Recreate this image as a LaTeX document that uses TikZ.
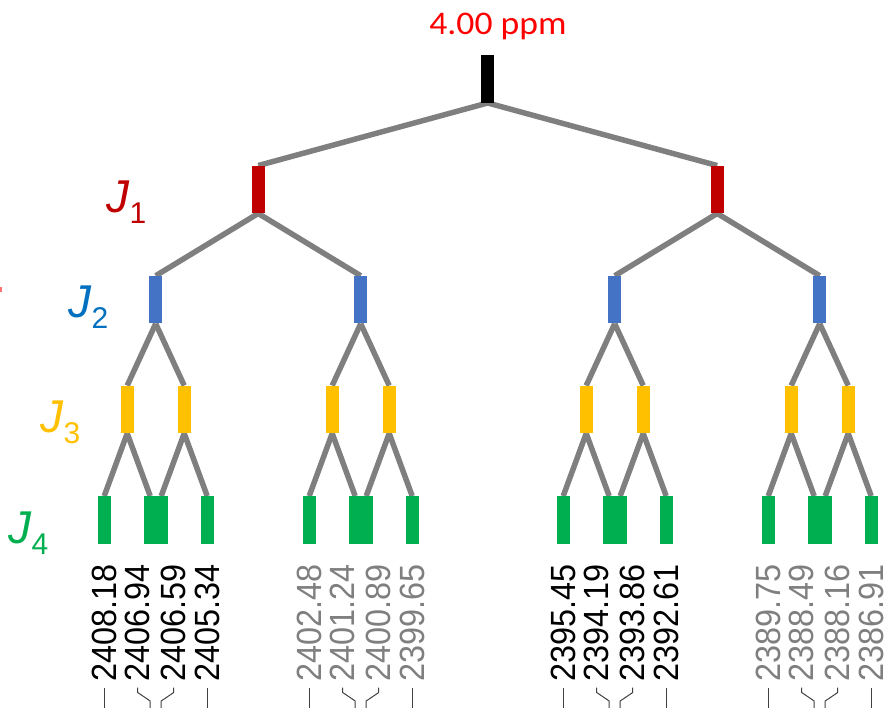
\documentclass[tikz,border=0pt]{standalone}
\usepackage{fontspec}
\setmainfont{Liberation Sans}
\newfontfamily\ppmfont[FakeStretch=1.08]{Carlito}
\usetikzlibrary{backgrounds}

\definecolor{linegray}{HTML}{7F7F7F}
\definecolor{labgray}{HTML}{7F7F7F}
\definecolor{jred}{HTML}{C00000}
\definecolor{jbluebar}{HTML}{4472C4}
\definecolor{jbluetext}{HTML}{0070C0}
\definecolor{jyellow}{HTML}{FFC000}
\definecolor{jgreen}{HTML}{00B050}
\definecolor{ppmred}{HTML}{FF0000}

% coupling symbol with an upright subscript
\newcommand\cpl[1]{\textit{J}\raisebox{-11pt}{\fontsize{30}{30}\selectfont #1}}

\tikzset{
  bar/.style={rectangle, minimum width=13.3pt, minimum height=47.5pt, inner sep=0pt, draw=none},
  link/.style={draw=linegray, line width=5.5pt},
  num/.style={rotate=90, anchor=west, inner sep=0pt, font=\fontsize{32.4}{32.4}\selectfont},
  tick/.style={draw=black!75, line width=1pt},
  jlab/.style={anchor=base west, inner sep=0pt, font=\fontsize{46}{46}\selectfont},
}

\begin{document}
\begin{tikzpicture}[x=1pt, y=-1pt]
\useasboundingbox (0,0) rectangle (889,707);

% chemical shift
\node[anchor=base, inner sep=0pt, text=ppmred, font=\ppmfont\fontsize{33}{33}\selectfont] (ppm) at (498,34) {4.00 ppm};

% splitting tree: bars
\node[bar, fill=black] (t) at (487.7,79) {};
\node[bar, fill=jred] (a1) at (258.2,189.5) {};
\node[bar, fill=jred] (a2) at (717.2,189.5) {};
\foreach \i/\x in {1/155.7, 2/360.7, 3/614.7, 4/819.7}
  \node[bar, fill=jbluebar] (b\i) at (\x,299.7) {};
\foreach \i/\x in {1/127.2, 2/184.2, 3/332.2, 4/389.2, 5/586.2, 6/643.2, 7/791.2, 8/848.2}
  \node[bar, fill=jyellow] (c\i) at (\x,409.5) {};
\foreach \i/\x in {1/104.2, 2/150.2, 3/161.2, 4/207.2, 5/309.2, 6/355.2, 7/366.2, 8/412.2,
                   9/563.2, 10/609.2, 11/620.2, 12/666.2, 13/768.2, 14/814.2, 15/825.2, 16/871.2}
  \node[bar, fill=jgreen] (d\i) at (\x,520) {};

% splitting tree: branches
\begin{scope}[on background layer]
  \draw[link] (t.south) -- (a1.north);
  \draw[link] (t.south) -- (a2.north);
  \foreach \p/\c in {a1/b1, a1/b2, a2/b3, a2/b4,
                     b1/c1, b1/c2, b2/c3, b2/c4, b3/c5, b3/c6, b4/c7, b4/c8,
                     c1/d1, c1/d2, c2/d3, c2/d4, c3/d5, c3/d6, c4/d7, c4/d8,
                     c5/d9, c5/d10, c6/d11, c6/d12, c7/d13, c7/d14, c8/d15, c8/d16}
    \draw[link] (\p.south) -- (\c.north);
\end{scope}

% coupling labels
\node[jlab, text=jred] (j1) at (106,212) {\cpl{1}};
\node[jlab, text=jbluetext] (j2) at (68,317) {\cpl{2}};
\node[jlab, text=jyellow] (j3) at (40,432) {\cpl{3}};
\node[jlab, text=jgreen] (j4) at (8,543) {\cpl{4}};

% line frequencies (Hz)
\foreach \i/\x/\v/\col in {
   1/104.2/2408.18/black, 2/137.7/2406.94/black, 3/173.7/2406.59/black, 4/207.2/2405.34/black,
   5/309.2/2402.48/labgray, 6/342.7/2401.24/labgray, 7/378.7/2400.89/labgray, 8/412.2/2399.65/labgray,
   9/563.2/2395.45/black, 10/596.7/2394.19/black, 11/632.7/2393.86/black, 12/666.2/2392.61/black,
   13/768.2/2389.75/labgray, 14/801.7/2388.49/labgray, 15/837.7/2388.16/labgray, 16/871.2/2386.91/labgray}
  \node[num, text=\col] (l\i) at (\x,681.5) {\scalebox{1}[1.08]{\v}};

% leader lines from labels down to the lines
\coordinate (kink) at (0,701);
\coordinate (edge) at (0,708);
\foreach \i in {1,...,16}
  \draw[tick] (l\i.west) ++(0,6) -- ++(0,5) -- (d\i |- kink) -- (d\i |- edge);

% small mark at the left border
\fill[ppmred!55] (0,286.5) rectangle (1.6,292);
\end{tikzpicture}
\end{document}
